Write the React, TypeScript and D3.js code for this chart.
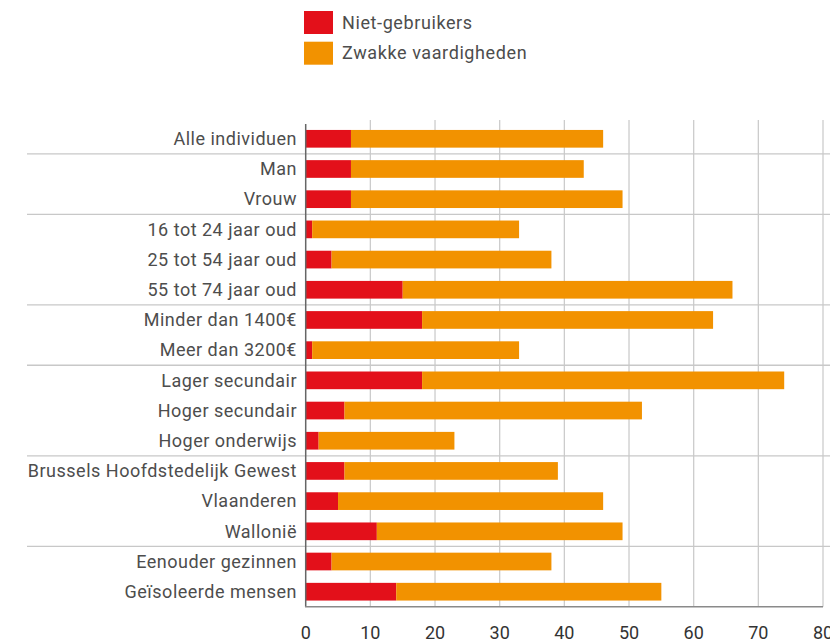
import React from 'react';
import * as d3 from 'd3';

const categories = [
  'Alle individuen',
  'Man',
  'Vrouw',
  '16 tot 24 jaar oud',
  '25 tot 54 jaar oud',
  '55 tot 74 jaar oud',
  'Minder dan 1400€',
  'Meer dan 3200€',
  'Lager secundair',
  'Hoger secundair',
  'Hoger onderwijs',
  'Brussels Hoofdstedelijk Gewest',
  'Vlaanderen',
  'Wallonië',
  'Eenouder gezinnen',
  'Geïsoleerde mensen',
];

// niet-gebruikers (%)
const nonUsers = [7, 7, 7, 1, 4, 15, 18, 1, 18, 6, 2, 6, 5, 11, 4, 14];
// zwakke vaardigheden (%), stacked on top of the non-users
const weakSkills = [39, 36, 42, 32, 34, 51, 45, 32, 56, 46, 21, 33, 41, 38, 34, 41];

// a group line is drawn above these categories
const groupStarts = ['Man', '16 tot 24 jaar oud', 'Minder dan 1400€', 'Lager secundair', 'Brussels Hoofdstedelijk Gewest', 'Eenouder gezinnen'];

const seriesNames = ['Niet-gebruikers', 'Zwakke vaardigheden'];
const xTicks = [0, 10, 20, 30, 40, 50, 60, 70, 80];

const RED = '#e3101a';
const ORANGE = '#f29200';
const FONT = 'Roboto, sans-serif';

const W = 830;
const H = 641;

const App: React.FC = () => {
  const x = d3.scaleLinear().domain([0, 80]).range([305.7, 823]);
  const y = d3.scaleBand<string>()
    .domain(categories)
    .range([123.7, 606.8])
    .paddingInner(0.414)
    .paddingOuter(0.207);

  const rows = categories.map((c, i) => ({ name: c, red: nonUsers[i], orange: weakSkills[i] }));
  const stack = d3.stack<{ name: string; red: number; orange: number }>().keys(['red', 'orange'])(rows);
  const colors = [RED, ORANGE];
  const gap = (y.step() * y.paddingInner()) / 2;

  return (
    <svg width={W} height={H} style={{ position: 'absolute', left: 0, top: 0 }} fontFamily={FONT}>
      {/* legend */}
      {seriesNames.map((s, i) => (
        <g key={s} transform={`translate(304, ${11 + i * 30.7})`}>
          <rect width={29} height={23} fill={colors[i]} />
          <text x={38} y={17.5} fontSize={18} letterSpacing={0.6} fill="#4d4d4d">{s}</text>
        </g>
      ))}

      {/* vertical grid */}
      {xTicks.slice(1).map(t => (
        <line key={t} x1={x(t)} x2={x(t)} y1={120} y2={606.7} stroke="#cccccc" strokeWidth={1.3} />
      ))}

      {/* group separators */}
      {groupStarts.map(c => (
        <line key={c} x1={27} x2={W} y1={(y(c) ?? 0) - gap} y2={(y(c) ?? 0) - gap} stroke="#c8c8c8" strokeWidth={1.3} />
      ))}

      {/* bars */}
      {stack.map((layer, li) => (
        <g key={layer.key} fill={colors[li]}>
          {layer.map(d => (
            <rect
              key={d.data.name}
              x={x(d[0])}
              y={y(d.data.name)}
              width={x(d[1]) - x(d[0])}
              height={y.bandwidth()}
            />
          ))}
        </g>
      ))}

      {/* axes */}
      <line x1={305.7} x2={305.7} y1={124} y2={607} stroke="#666666" strokeWidth={1.5} />
      <line x1={305} x2={823} y1={606.7} y2={606.7} stroke="#8a8a8a" strokeWidth={1.5} />

      {/* category labels */}
      {categories.map(c => (
        <text
          key={c}
          x={297}
          y={(y(c) ?? 0) + y.bandwidth() / 2}
          dy="0.35em"
          textAnchor="end"
          fontSize={18}
          letterSpacing={0.5}
          fill="#4d4d4d"
        >
          {c}
        </text>
      ))}

      {/* x tick labels */}
      {xTicks.map(t => (
        <text key={t} x={x(t)} y={639} textAnchor="middle" fontSize={18} fill="#333333">{t}</text>
      ))}
    </svg>
  );
};

export default App;
